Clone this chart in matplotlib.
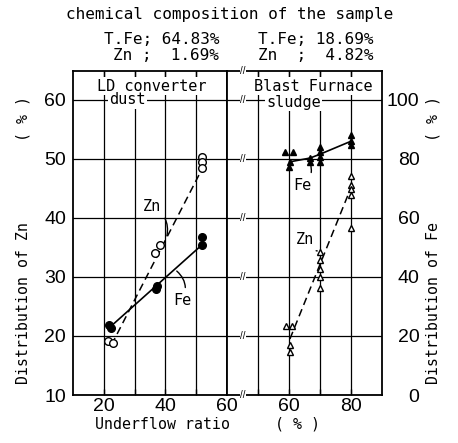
import matplotlib
matplotlib.use("Agg")
import matplotlib.pyplot as plt

# ---------------- data ----------------
# LD converter dust (left panel)
ld_zn_x = [21.5, 23.0, 36.6, 38.2, 51.8, 51.8, 51.8]
ld_zn_y = [19.2, 18.8, 34.1, 35.4, 50.3, 49.5, 48.4]          # Zn distribution (%)
ld_zn_line_x = [22.5, 52.0]
ld_zn_line_y = [18.5, 48.4]
ld_fe_x = [21.8, 22.3, 37.0, 37.4, 51.8, 51.8]
ld_fe_y = [23.6, 22.6, 35.8, 37.0, 53.6, 51.0]                # Fe distribution (%)
ld_fe_line_x = [22.0, 52.0]
ld_fe_line_y = [23.0, 51.0]

# Blast Furnace sludge (right panel)
bf_fe_x = [58.8, 61.2, 60.2, 60.0, 66.8, 66.8, 70.0, 70.0, 70.0, 70.0, 80.0, 80.0, 80.0]
bf_fe_y = [82.4, 82.4, 79.0, 77.3, 80.3, 79.0, 84.1, 82.4, 80.8, 79.0, 88.1, 86.1, 84.7]
bf_fe_line_x = [60.2, 66.8, 70.0, 80.0]
bf_fe_line_y = [79.0, 80.3, 81.6, 86.0]
bf_zn_x = [59.0, 61.0, 60.2, 60.2, 70.0, 70.0, 70.0, 70.0, 70.0, 80.0, 80.0, 80.0, 80.0, 80.0]
bf_zn_y = [21.7, 21.7, 18.5, 17.3, 34.2, 32.9, 31.4, 30.0, 28.1, 47.1, 45.6, 44.9, 43.9, 38.3]
bf_zn_line_x = [60.3, 79.5]
bf_zn_line_y = [19.5, 44.5]

left_xticks = [20, 30, 40, 50, 60]
left_xlabels = ["20", "", "40", "", "60"]
right_xticks = [50, 60, 70, 80]
right_xlabels = ["", "60", "", "80"]
zn_ticks = [10, 20, 30, 40, 50, 60]
fe_ticks = [0, 20, 40, 60, 80, 100]

# ---------------- figure ----------------
W, H = 458, 443
fig = plt.figure(figsize=(W / 100, H / 100), dpi=100)
MONO = "DejaVu Sans Mono"
SANS = "Liberation Sans"

def fx(px):
    return px / W

def fy(py):
    return 1 - py / H

ax_bottom, ax_top = 395, 71
axL = fig.add_axes([fx(73), fy(ax_bottom), (227 - 73) / W, (ax_bottom - ax_top) / H])
axR = fig.add_axes([fx(227), fy(ax_bottom), (382 - 227) / W, (ax_bottom - ax_top) / H])

ZN_LIM = (10, 64.9)
FE_LIM = (0, 109.8)

for ax, xl, xt, xlab in [(axL, (10, 60), left_xticks, left_xlabels),
                         (axR, (40, 90), right_xticks, right_xlabels)]:
    ax.set_xlim(*xl)
    ax.set_ylim(*ZN_LIM)
    ax.set_xticks(xt)
    ax.set_xticklabels(xlab, fontfamily=SANS, fontsize=14)
    ax.set_yticks(zn_ticks)
    ax.grid(True, color="black", lw=0.9)
    ax.set_axisbelow(True)
    ax.tick_params(axis="x", direction="in", length=4, width=1, top=True, pad=2)
    ax.tick_params(axis="y", length=0)
    for s in ax.spines.values():
        s.set_linewidth(1.3)

axL.set_yticklabels([str(t) for t in zn_ticks], fontfamily=SANS, fontsize=14)
axL.tick_params(axis="y", pad=5)
axR.set_yticklabels([])

axL2 = axL.twinx()
axL2.set_ylim(*FE_LIM)
axL2.set_yticks([])
axR2 = axR.twinx()
axR2.set_ylim(*FE_LIM)
axR2.set_yticks(fe_ticks)
axR2.set_yticklabels([str(t) for t in fe_ticks], fontfamily=SANS, fontsize=14, ha="right")
axR2.tick_params(axis="y", length=0, pad=27)
for a in (axL2, axR2):
    for s in a.spines.values():
        s.set_visible(False)

# ---------------- series ----------------
# LD dust
axL.plot(ld_zn_line_x, ld_zn_line_y, ls=(0, (5, 3)), color="black", lw=1.1, zorder=4)
axL.plot(ld_zn_x, ld_zn_y, ls="none", marker="o", ms=5.5, mfc="white", mec="black", mew=1.0, zorder=5)
axL2.plot(ld_fe_line_x, ld_fe_line_y, ls="-", color="black", lw=1.2, zorder=4)
axL2.plot(ld_fe_x, ld_fe_y, ls="none", marker="o", ms=5.5, mfc="black", mec="black", zorder=5)

# BF sludge
axR.plot(bf_zn_line_x, bf_zn_line_y, ls=(0, (5, 3)), color="black", lw=1.1, zorder=4)
axR.plot(bf_zn_x, bf_zn_y, ls="none", marker="^", ms=4.5, mfc="white", mec="black", mew=1.0, zorder=5)
axR2.plot(bf_fe_line_x, bf_fe_line_y, ls="-", color="black", lw=1.2, zorder=4)
axR2.plot(bf_fe_x, bf_fe_y, ls="none", marker="^", ms=5, mfc="black", mec="black", zorder=5)

# ---------------- panel texts ----------------
box = dict(fc="white", ec="none", pad=1.0)
axL.text(35.5, 62.3, "LD converter", family=MONO, fontsize=11, ha="center", va="center", bbox=box, zorder=6)
axL.text(27.7, 60.0, "dust", family=MONO, fontsize=11, ha="center", va="center", bbox=box, zorder=6)
axR.text(68.0, 62.3, "Blast Furnace", family=MONO, fontsize=11, ha="center", va="center", bbox=box, zorder=6)
axR.text(61.5, 59.6, "sludge", family=MONO, fontsize=11, ha="center", va="center", bbox=box, zorder=6)

# leaders
lead = dict(arrowstyle="-", color="black", lw=1.0, connectionstyle="arc3,rad=-0.4")
axL.annotate("Zn", xy=(40.3, 36.5), xytext=(35.5, 42.0), family=MONO, fontsize=11,
             ha="center", va="center", arrowprops=lead, zorder=6)
axL2.annotate("Fe", xy=(43.0, 42.6), xytext=(45.5, 32.0), family=MONO, fontsize=11,
              ha="center", va="center", arrowprops=dict(lead, connectionstyle="arc3,rad=0.4"), zorder=6)
axR2.annotate("Fe", xy=(66.6, 79.2), xytext=(64.3, 71.0), family=MONO, fontsize=11,
              ha="center", va="center", arrowprops=dict(lead, connectionstyle="arc3,rad=0.4"), zorder=6)
axR.annotate("Zn", xy=(70.0, 34.4), xytext=(65.2, 36.3), family=MONO, fontsize=11,
             ha="center", va="center", arrowprops=dict(lead, connectionstyle="arc3,rad=0.4"), zorder=6)

# axis break marks
for yb in [10, 20, 30, 40, 50, 60, ZN_LIM[1]]:
    axR.text(45.2, yb, "//", fontsize=7, ha="center", va="center", family=SANS,
             bbox=dict(fc="white", ec="none", pad=0.2), zorder=7, clip_on=False)

# ---------------- header & labels ----------------
fig.text(fx(230), fy(15), "chemical composition of the sample", family=MONO, fontsize=11.5,
         ha="center", va="center")
fig.text(fx(219), fy(40), "T.Fe; 64.83%", family=MONO, fontsize=11.5, ha="right", va="center")
fig.text(fx(219), fy(55), "Zn ;  1.69%", family=MONO, fontsize=11.5, ha="right", va="center")
fig.text(fx(373), fy(40), "T.Fe; 18.69%", family=MONO, fontsize=11.5, ha="right", va="center")
fig.text(fx(373), fy(55), "Zn  ;  4.82%", family=MONO, fontsize=11.5, ha="right", va="center")

fig.text(fx(95), fy(424), "Underflow ratio     ( % )", family=MONO, fontsize=10.7,
         ha="left", va="center")
fig.text(fx(23), fy(240), "Distribution of Zn         ( % )", family=MONO, fontsize=10.7,
         ha="center", va="center", rotation=90)
fig.text(fx(433), fy(240), "Distribution of Fe         ( % )", family=MONO, fontsize=10.7,
         ha="center", va="center", rotation=90)

fig.savefig("out.png", dpi=100)
